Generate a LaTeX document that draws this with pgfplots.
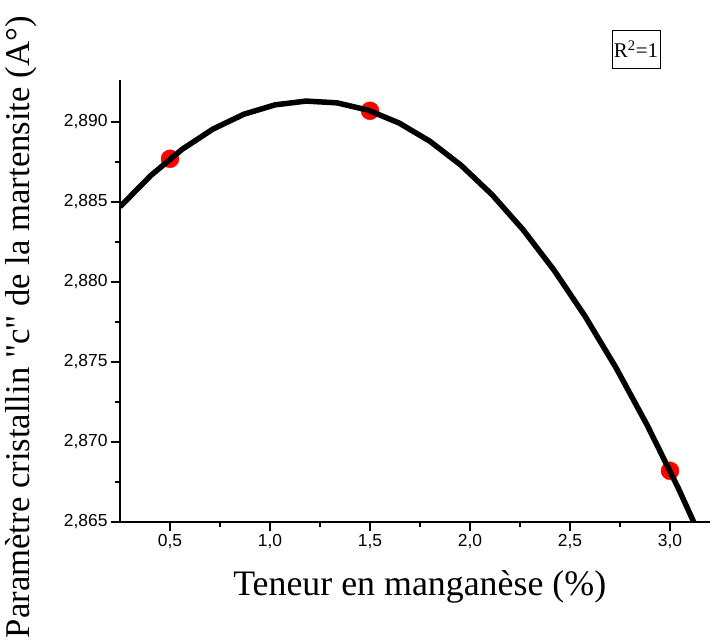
\documentclass[border=0pt]{standalone}
\usepackage{fontspec}
\setmainfont{Liberation Serif}
\setsansfont{Liberation Sans}
\usepackage{pgfplots}
\pgfplotsset{compat=1.18}
\begin{document}
\begin{tikzpicture}
\useasboundingbox (-120bp,-119bp) rectangle (593bp,522bp);
\begin{axis}[
	name=ax,
	scale only axis,
	width=590bp, height=441.6bp,
	xmin=0.25, xmax=3.2,
	ymin=2.865, ymax=2.8926,
	axis x line*=bottom, axis y line*=left,
	axis line style={line width=1.3bp},
	tick style={line width=1.3bp, black},
	tick align=outside,
	major tick length=9bp, minor tick length=5bp,
	xtick={0.5,1.0,1.5,2.0,2.5,3.0},
	ytick={2.865,2.870,2.875,2.880,2.885,2.890},
	minor tick num=1,
	scaled ticks=false,
	clip marker paths=true,
	xticklabel style={/pgf/number format/.cd, fixed, fixed zerofill, precision=1, use comma, assume math mode=true},
	yticklabel style={/pgf/number format/.cd, fixed, fixed zerofill, precision=3, use comma, assume math mode=true},
	ticklabel style={font=\sffamily\fontsize{17.5}{19}\selectfont},
	xlabel={Teneur en mangan\`ese (\%)},
	xlabel style={font=\fontsize{36}{40}\selectfont, at={(axis description cs:0.508,-0.146)}, anchor=center},
	ylabel={Param\`etre cristallin \textquotedbl c\textquotedbl{} de la martensite (A°)},
	ylabel style={font=\fontsize{34.8}{38}\selectfont, at={(axis description cs:-0.168,0.441)}, anchor=center, rotate=0},
]
% measured points
\addplot[only marks, mark=*, mark size=9bp, color=red] coordinates {
	(0.5,2.8877) (1.5,2.8907) (3.0,2.8682)
};
% fitted curve (R^2=1)
\addplot[black, line width=5.5bp, line join=round] coordinates {
	(0.25,2.88470) (0.405,2.886666) (0.56,2.888286) (0.715,2.88956)
	(0.87,2.890488) (1.025,2.89107) (1.18,2.891307) (1.335,2.891197)
	(1.49,2.890741) (1.645,2.88994) (1.80,2.888792) (1.955,2.887298)
	(2.11,2.885459) (2.265,2.883273) (2.42,2.880742) (2.575,2.877865)
	(2.73,2.874641) (2.885,2.871072) (3.04,2.867156) (3.195,2.862895)
};
\end{axis}
\node[draw, line width=0.8bp, inner sep=0pt, minimum width=48bp, minimum height=38bp, font=\fontsize{21}{24}\selectfont] at (516bp,473bp) {R\textsuperscript{2}=1};
\end{tikzpicture}
\end{document}
